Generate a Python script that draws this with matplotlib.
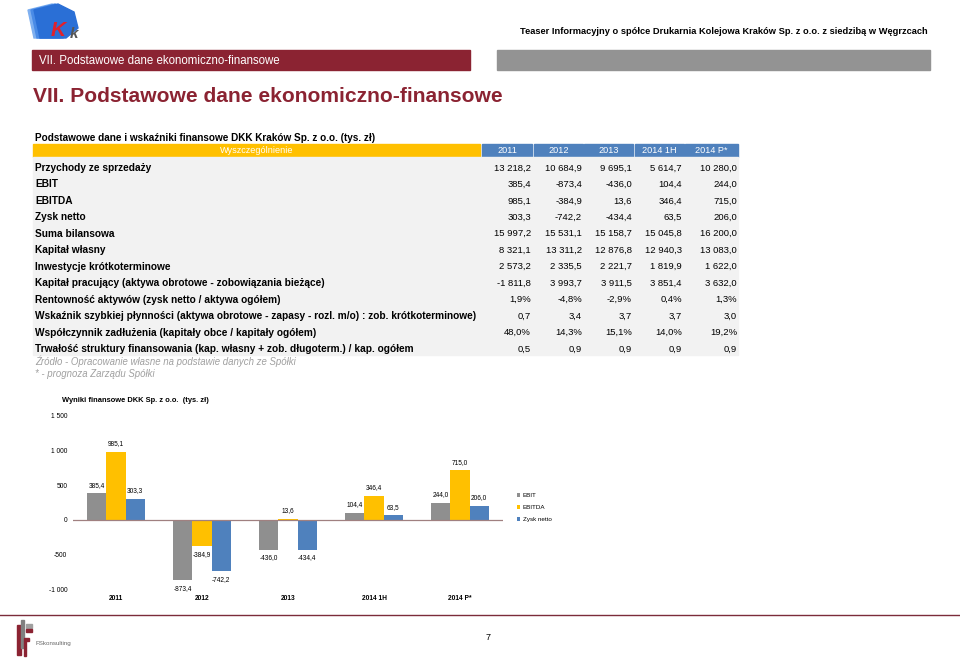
import matplotlib.pyplot as plt
from matplotlib.patches import Rectangle, Polygon

plt.rcParams['font.family'] = ['Liberation Sans', 'DejaVu Sans']

# ---- data ----
years = ['2011', '2012', '2013', '2014 1H', '2014 P*']
row_labels = [
    'Przychody ze sprzedaży',
    'EBIT',
    'EBITDA',
    'Zysk netto',
    'Suma bilansowa',
    'Kapitał własny',
    'Inwestycje krótkoterminowe',
    'Kapitał pracujący (aktywa obrotowe - zobowiązania bieżące)',
    'Rentowność aktywów (zysk netto / aktywa ogółem)',
    'Wskaźnik szybkiej płynności (aktywa obrotowe - zapasy - rozl. m/o) : zob. krótkoterminowe)',
    'Współczynnik zadłużenia (kapitały obce / kapitały ogółem)',
    'Trwałość struktury finansowania (kap. własny + zob. długoterm.) / kap. ogółem',
]
col_2011 = ['13 218,2', '385,4', '985,1', '303,3', '15 997,2', '8 321,1', '2 573,2',
            '-1 811,8', '1,9%', '0,7', '48,0%', '0,5']
col_2012 = ['10 684,9', '-873,4', '-384,9', '-742,2', '15 531,1', '13 311,2', '2 335,5',
            '3 993,7', '-4,8%', '3,4', '14,3%', '0,9']
col_2013 = ['9 695,1', '-436,0', '13,6', '-434,4', '15 158,7', '12 876,8', '2 221,7',
            '3 911,5', '-2,9%', '3,7', '15,1%', '0,9']
col_2014h = ['5 614,7', '104,4', '346,4', '63,5', '15 045,8', '12 940,3', '1 819,9',
             '3 851,4', '0,4%', '3,7', '14,0%', '0,9']
col_2014p = ['10 280,0', '244,0', '715,0', '206,0', '16 200,0', '13 083,0', '1 622,0',
             '3 632,0', '1,3%', '3,0', '19,2%', '0,9']

ebit = [385.4, -873.4, -436.0, 104.4, 244.0]
ebitda = [985.1, -384.9, 13.6, 346.4, 715.0]
zysk = [303.3, -742.2, -434.4, 63.5, 206.0]
series_names = ['EBIT', 'EBITDA', 'Zysk netto']
y_ticks = [-1000, -500, 0, 500, 1000, 1500]

GRAY = '#8f8f8f'
YELLOW = '#ffc000'
BLUE = '#4f81bd'
MAROON = '#8b2332'

fig = plt.figure(figsize=(9.6, 6.61), dpi=100)

# page layer in pixel coordinates
pg = fig.add_axes([0, 0, 1, 1])
pg.set_xlim(0, 960)
pg.set_ylim(661, 0)
pg.axis('off')

# logo (rough)
for dx, c in [(0, '#7fb0f0'), (3, '#4a8be6'), (6, '#2a6fd6')]:
    pg.add_patch(Polygon([[28 + dx, 10], [52 + dx, 4], [68 + dx, 12], [72 + dx, 28],
                          [60 + dx, 38], [34 + dx, 38]], closed=True, color=c))
pg.text(58, 31, 'K', color='#e0212b', fontsize=15, fontweight='bold', style='italic',
        ha='center', va='center')
pg.text(74, 34, 'k', color='#555555', fontsize=11, fontweight='bold', style='italic',
        ha='center', va='center')

pg.text(928, 32, 'Teaser Informacyjny o spółce Drukarnia Kolejowa Kraków Sp. z o.o. z siedzibą w Węgrzcach',
        ha='right', va='center', fontsize=6.7, fontweight='bold')

pg.add_patch(Rectangle((32, 50), 438, 20, color=MAROON))
pg.add_patch(Rectangle((497, 50), 433, 20, color='#939393'))
pg.text(39, 60.5, 'VII. Podstawowe dane ekonomiczno-finansowe', color='white',
        fontsize=8.3, va='center', ha='left')
pg.text(33, 96, 'VII. Podstawowe dane ekonomiczno-finansowe', color=MAROON,
        fontsize=15.1, fontweight='bold', va='center', ha='left')

# table
pg.text(35, 138, 'Podstawowe dane i wskaźniki finansowe DKK Kraków Sp. z o.o. (tys. zł)',
        fontsize=7.2, fontweight='bold', va='center')
pg.add_patch(Rectangle((33, 144), 447, 13, color=YELLOW))
pg.text(257, 150.5, 'Wyszczególnienie', color='white', fontsize=6.6, ha='center', va='center')
col_edges = [(482, 532), (534, 583), (584, 633), (635, 684), (685, 738)]
for (x0, x1), yr in zip(col_edges, years):
    pg.add_patch(Rectangle((x0, 144), x1 - x0, 13, color=BLUE))
    pg.text((x0 + x1) / 2, 150.5, yr, color='white', fontsize=6.6, ha='center', va='center')
pg.add_patch(Rectangle((33, 157), 705, 198, color='#f2f2f2'))

columns = [col_2011, col_2012, col_2013, col_2014h, col_2014p]
right_x = [531, 582, 632, 682, 737]
for i, lab in enumerate(row_labels):
    y = 168 + i * 16.45
    pg.text(35, y, lab, fontsize=7.25, fontweight='bold', va='center', ha='left')
    for col, rx in zip(columns, right_x):
        pg.text(rx, y, col[i], fontsize=6.8, va='center', ha='right')

pg.text(35, 361, 'Źródło - Opracowanie własne na podstawie danych ze Spółki',
        fontsize=6.9, style='italic', color='#a0a0a0', va='center')
pg.text(35, 374, '* - prognoza Zarządu Spółki',
        fontsize=6.9, style='italic', color='#a0a0a0', va='center')

pg.text(62, 400, 'Wyniki finansowe DKK Sp. z o.o.  (tys. zł)', fontsize=5.4,
        fontweight='bold', va='center')

# footer
pg.plot([0, 960], [615, 615], color='#7b2c3a', lw=1)
pg.add_patch(Rectangle((17, 625), 4, 30, color=MAROON))
pg.add_patch(Rectangle((21, 620), 3, 28, color='#808080'))
pg.add_patch(Rectangle((26, 624), 6, 4, color='#a0a0a0'))
pg.add_patch(Rectangle((26, 629), 6, 3, color=MAROON))
pg.add_patch(Rectangle((24, 638), 5, 3, color=MAROON))
pg.add_patch(Rectangle((24, 641), 2, 15, color=MAROON))
pg.text(35, 643, 'FSkonsulting', fontsize=4.5, color='#666666', va='center')
pg.text(488, 637, '7', fontsize=6.5, va='center', ha='center')

# bar chart
ax = fig.add_axes([73 / 960, 1 - 589 / 661, 430 / 960, 173 / 661])
ax.patch.set_alpha(0)
x = list(range(len(years)))
w = 0.222
for k, (vals, col, name) in enumerate(zip([ebit, ebitda, zysk], [GRAY, YELLOW, BLUE], series_names)):
    xs = [xi + (k - 1) * w for xi in x]
    ax.bar(xs, vals, width=w, color=col, label=name, zorder=2)
    for xi, v in zip(xs, vals):
        off = 8 if v >= 0 else -8
        ax.annotate(f'{v:.1f}'.replace('.', ','), (xi, v), xytext=(0, off),
                    textcoords='offset pixels', ha='center', va='center', fontsize=4.7)

ax.axhline(0, color='#a08080', lw=0.9, zorder=3)
ax.set_xlim(-0.5, 4.5)
ax.set_ylim(-1000, 1500)
ax.set_yticks(y_ticks)
ax.set_yticklabels([f'{t:,}'.replace(',', ' ') for t in y_ticks], fontsize=4.8)
ax.set_xticks(x)
ax.set_xticklabels(years, fontsize=4.8, fontweight='bold')
ax.tick_params(length=0, pad=4)
for s in ax.spines.values():
    s.set_visible(False)

ax.legend(loc='center left', bbox_to_anchor=(1.02, 0.47), frameon=False, fontsize=4.5,
          handlelength=0.5, handleheight=0.5, handletextpad=0.4, labelspacing=1.1)

plt.savefig('out.png', dpi=100)
plt.close()
